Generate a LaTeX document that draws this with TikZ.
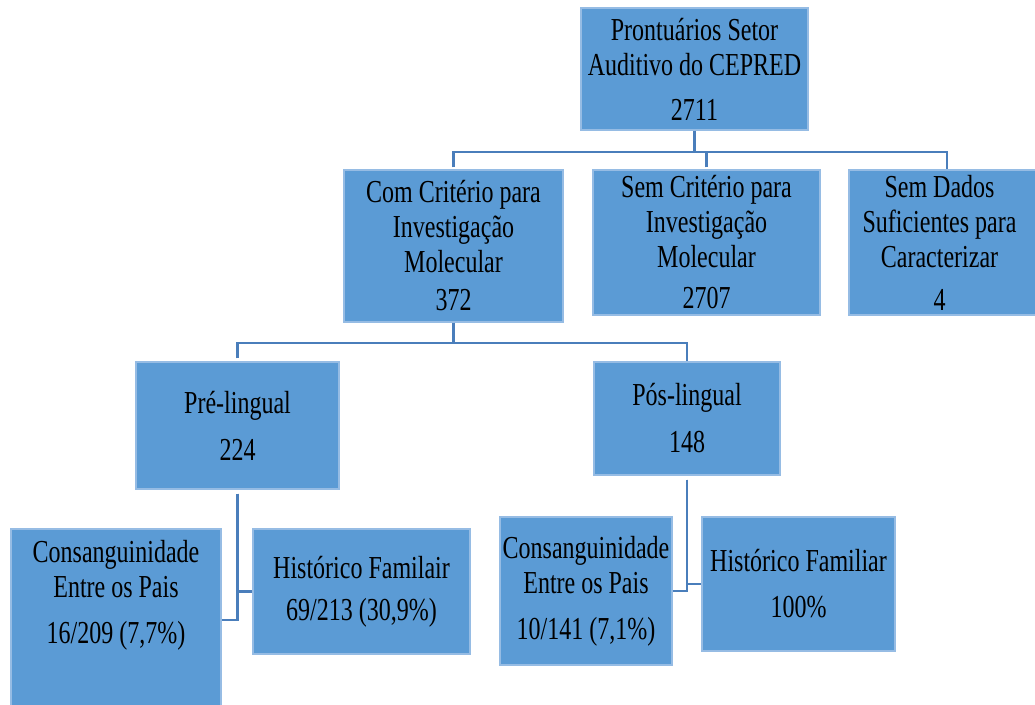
\documentclass[tikz,border=0pt]{standalone}
\usepackage{fontspec}
\setmainfont{Liberation Serif}[FakeStretch=0.75]
\definecolor{boxfill}{RGB}{91,155,213}
\definecolor{boxline}{RGB}{150,188,228}
\definecolor{wire}{RGB}{74,126,187}
\tikzset{
  box/.style={rectangle, fill=boxfill, draw=boxline, line width=1.2pt,
    align=center, inner sep=0pt, font=\fontsize{32}{35}\selectfont},
  label/.style={align=center, inner sep=0pt, font=\fontsize{32}{35}\selectfont},
  conn/.style={draw=wire, line width=2.6pt},
}
\begin{document}
\begin{tikzpicture}[x=1pt, y=-1pt]
\useasboundingbox (0,0) rectangle (1035,704);

% level 0
\node[box, minimum width=227pt, minimum height=122pt] (top) at (694.5,69)
  {Prontuários Setor\\Auditivo do CEPRED\\[10pt]2711};

% level 1
\node[box, minimum width=219pt, minimum height=152pt] (com) at (453.5,246)
  {Com Critério para\\Investigação\\Molecular\\[3pt]372};
\node[box, minimum width=227pt, minimum height=145pt] (sem) at (706.5,242.5)
  {Sem Critério para\\Investigação\\Molecular\\[6pt]2707};
\node[box, minimum width=196pt, minimum height=145pt] (dados) at (947,242.5) {};
\node[label] (dadost) at (939.5,242.5)
  {Sem Dados\\Suficientes para\\Caracterizar\\[8pt]4};

% level 2
\node[box, minimum width=203pt, minimum height=127pt] (pre) at (237.5,425.5)
  {Pré-lingual\\[12pt]224};
\node[box, minimum width=186pt, minimum height=113pt] (pos) at (687,418.5)
  {Pós-lingual\\[12pt]148};

% level 3
\node[box, minimum width=210pt, minimum height=240pt] (c1) at (116,649) {};
\node[label] (c1t) at (116,595)
  {Consanguinidade\\Entre os Pais\\[11pt]16/209 (7,7\%)};
\node[box, minimum width=217pt, minimum height=125pt] (h1) at (361.5,591.5)
  {Histórico Familair\\[7pt]69/213 (30,9\%)};
\node[box, minimum width=172pt, minimum height=148pt] (c2) at (586,591)
  {Consanguinidade\\Entre os Pais\\[11pt]10/141 (7,1\%)};
\node[box, minimum width=193pt, minimum height=134pt] (h2) at (798.5,584)
  {Histórico Familiar\\[11pt]100\%};

% bus lines
\coordinate (bus1) at (0,152);
\coordinate (bus2) at (0,343);
\coordinate (j1) at (0,620);

\draw[conn] (top.south) -- (top.south |- bus1);
\draw[conn, shorten <=2pt] (com.north) -- (com.north |- bus1) -- (dados.north |- bus1) -- (dados.north);
\draw[conn, shorten <=2pt] (sem.north) -- (sem.north |- bus1);

\draw[conn] (com.south) -- (com.south |- bus2);
\draw[conn, shorten <=3pt] (pre.north) -- (pre.north |- bus2) -- (pos.north |- bus2) -- (pos.north);

\draw[conn, shorten <=4pt] (pre.south) |- (h1.west);
\draw[conn, shorten <=4pt] (pre.south) |- (c1.east |- j1);
\draw[conn, shorten <=4pt] (pos.south) |- (h2.west);
\draw[conn, shorten <=4pt] (pos.south) |- (c2.east);
\end{tikzpicture}
\end{document}
